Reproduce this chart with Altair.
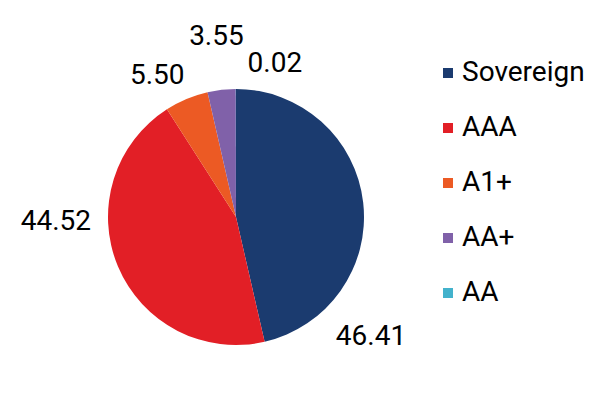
import altair as alt
import pandas as pd

categories = ["Sovereign", "AAA", "A1+", "AA+", "AA"]
values = [46.41, 44.52, 5.50, 3.55, 0.02]
labels = ["46.41", "44.52", "5.50", "3.55", "0.02"]
colors = ["#1b3b6f", "#e21f26", "#ec5a24", "#8061a9", "#43b2cc"]
# label offsets (styling) from the slice mid-angle position
label_dx = [-29, -28, -15, -1, 39]
label_dy = [139, -59, 11, -16, 12]

df = pd.DataFrame({"rating": categories, "value": values, "label": labels,
                   "order": list(range(len(categories)))})

CX, CY = 228, 209
FONT = "Roboto"
FS = 28

base = alt.Chart(df).encode(
    theta=alt.Theta("value:Q", stack=True),
    order=alt.Order("order:Q"),
)

pie = base.mark_arc(outerRadius=128).encode(
    color=alt.Color(
        "rating:N",
        scale=alt.Scale(domain=categories, range=colors),
        sort=categories,
        legend=alt.Legend(
            title=None, orient="none", legendX=426, legendY=51,
            symbolType="square", symbolSize=100, symbolStrokeWidth=0,
            labelFontSize=FS, labelFont=FONT, labelColor="#000000",
            rowPadding=27, labelOffset=0,
        ),
    ),
    x=alt.value(CX), y=alt.value(CY),
)

layers = [pie]
for i, cat in enumerate(categories):
    t = base.mark_text(radius=165, fontSize=FS, font=FONT, color="#000000",
                       dx=label_dx[i], dy=label_dy[i]).encode(
        text=alt.condition(alt.datum.rating == cat, alt.Text("label:N"), alt.value("")),
        x=alt.value(CX), y=alt.value(CY),
    )
    layers.append(t)

chart = alt.layer(*layers).properties(
    width=590, height=380, padding=0,
    autosize=alt.AutoSizeParams(type="none"),
    background="white",
).configure_view(stroke=None)

chart.save("out.html", embed_options={"renderer": "svg", "actions": False})
